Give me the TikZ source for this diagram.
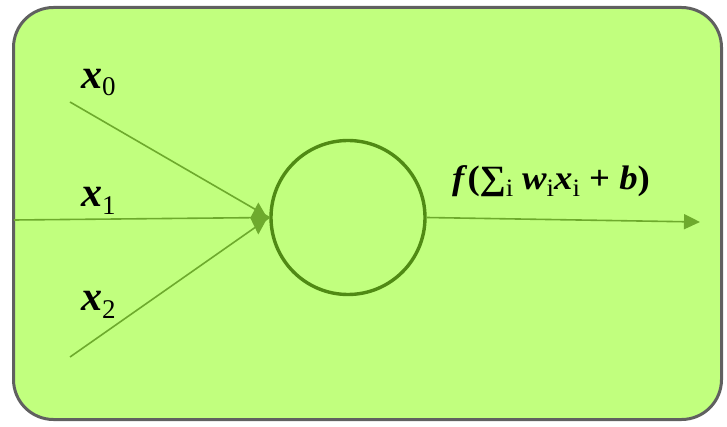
\documentclass[tikz,border=0pt]{standalone}
\usepackage{fontspec}
\setmainfont{Liberation Serif}
\usetikzlibrary{arrows.meta,calc}
\definecolor{bgfill}{RGB}{193,255,126}
\definecolor{boxline}{RGB}{96,96,96}
\definecolor{ringc}{RGB}{80,138,20}
\definecolor{linec}{RGB}{110,170,45}
\newcommand{\lowsub}[3]{\raisebox{-#1}{\fontsize{#2}{#2}\selectfont\upshape\mdseries #3}}
\begin{document}
\begin{tikzpicture}[x=1pt,y=-1pt,
  inlab/.style={font=\fontsize{42}{44}\selectfont\bfseries\itshape, text=black, inner sep=0pt, anchor=base west},
  conn/.style={draw=linec, line width=1.6pt}]
\useasboundingbox (0,0) rectangle (727,427);
\node[draw=boxline, line width=3pt, fill=bgfill, rounded corners=40pt, minimum width=708pt, minimum height=412pt, inner sep=0pt] (box) at (367.5,213.5) {};
\node[draw=ringc, line width=3.4pt, circle, minimum size=154pt, inner sep=0pt] (neuron) at (348,217.5) {};
\coordinate (in0) at (70,102);
\coordinate (in1) at (14,220);
\coordinate (in2) at (70,357);
\coordinate (out) at (700,222);
\draw[conn] (in0) -- (neuron.west);
\draw[conn] (in1) -- (neuron.west);
\draw[conn] (in2) -- (neuron.west);
\fill[linec] ($(neuron.west)+(-2,0.5)$) -- ++(-9,-15.5) -- ++(-8,15.5) -- ++(8,16.5) -- cycle;
\draw[conn, -{Triangle[length=16pt,width=15pt]}] (neuron.east) -- (out);
\node[inlab] (x0) at (81,89) {x\lowsub{7pt}{27}{0}};
\node[inlab] (x1) at (81,207) {x\lowsub{8pt}{27}{1}};
\node[inlab] (x2) at (81,310) {x\lowsub{8pt}{27}{2}};
\node[font=\fontsize{34}{36}\selectfont\bfseries, inner sep=0pt, anchor=base west, xscale=1.08] (f) at (452,190) {\textit{f}(∑\lowsub{7pt}{25}{i}\hspace{8pt}\textit{w}\lowsub{7pt}{25}{i}\textit{x}\lowsub{7pt}{25}{i} + \textit{b})};
\end{tikzpicture}
\end{document}
